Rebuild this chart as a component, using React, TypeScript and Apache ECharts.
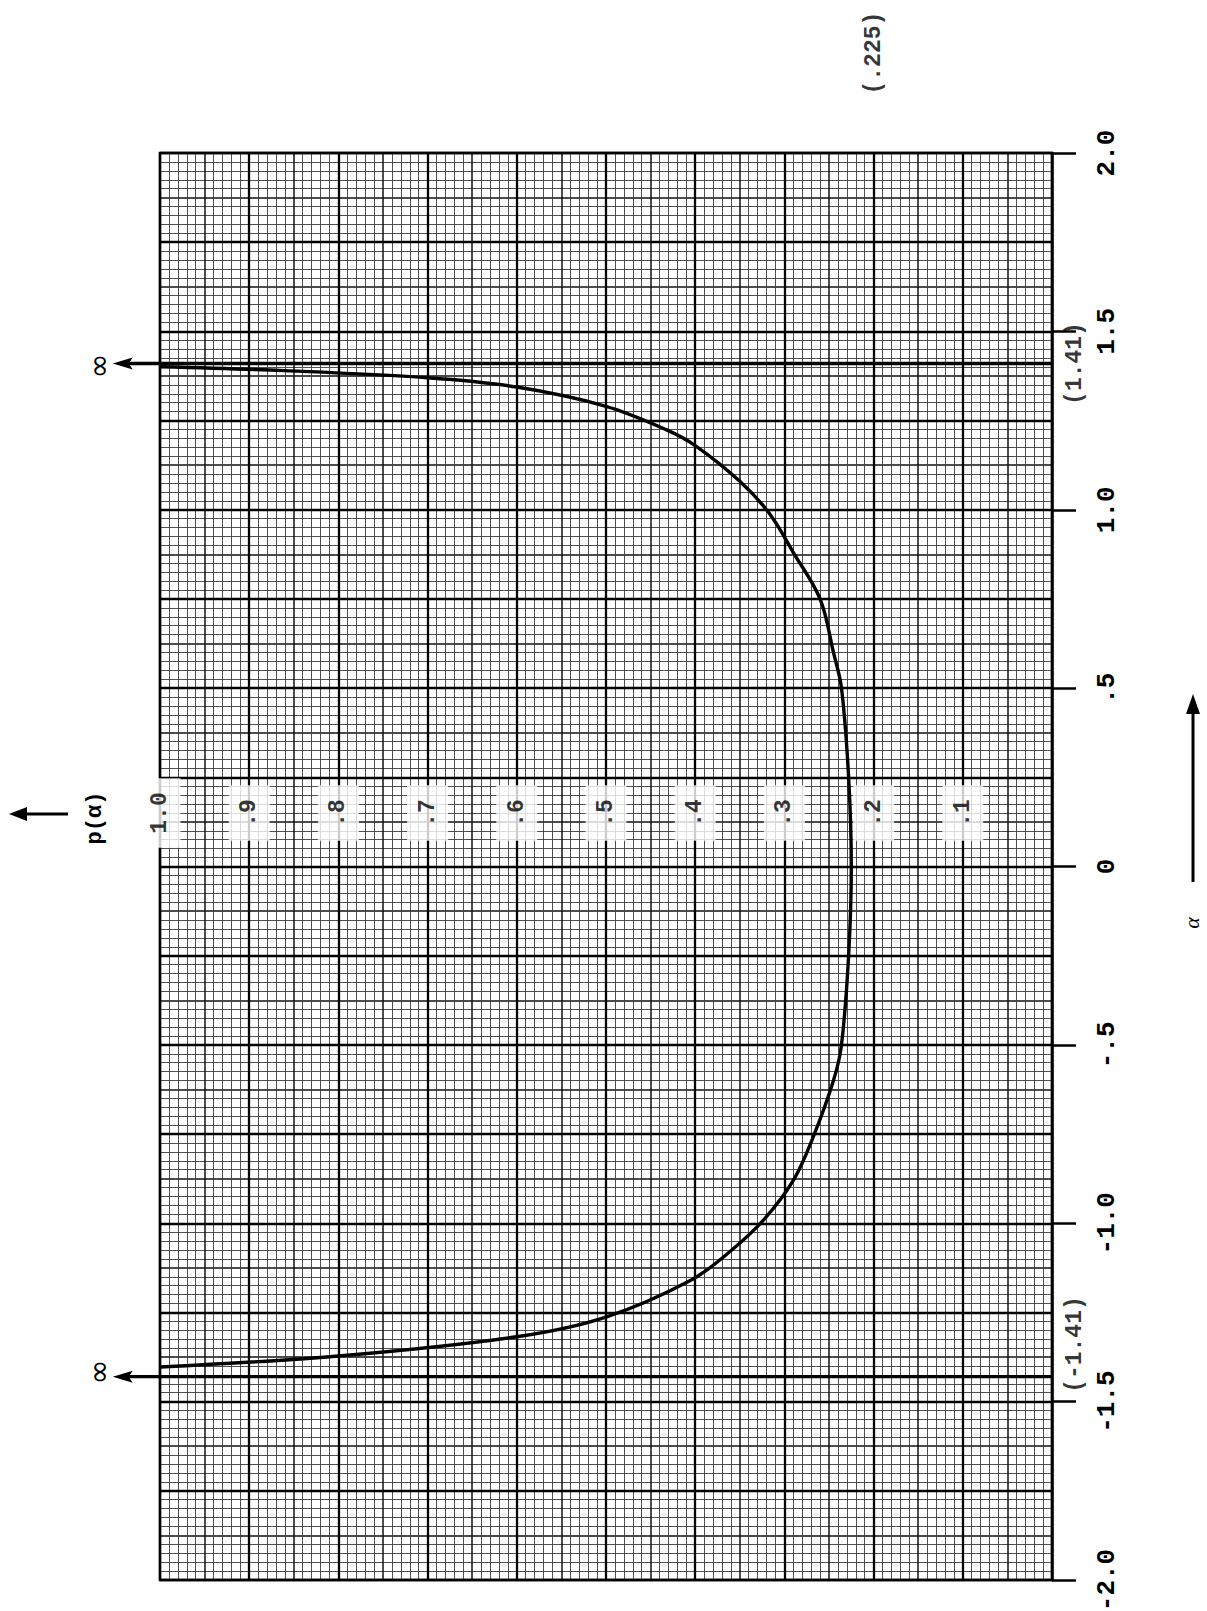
import React, { useEffect, useRef } from "react";
import * as echarts from "echarts";

// curve: alpha (vertical) and p(alpha) (horizontal)
const curveAlpha = [1.401, 1.39, 1.37, 1.344, 1.29, 1.224, 1.18, 1.08, 0.99, 0.88, 0.75, 0.6, 0.5, 0.25, 0, -0.25, -0.5, -0.6, -0.76, -0.88, -0.99, -1.075, -1.16, -1.263, -1.318, -1.372, -1.403];
const curveP = [1.0, 0.86, 0.7, 0.6, 0.5, 0.432, 0.4, 0.35, 0.317, 0.29, 0.26, 0.245, 0.236, 0.228, 0.225, 0.228, 0.236, 0.245, 0.268, 0.29, 0.323, 0.359, 0.405, 0.5, 0.6, 0.8, 1.0];

// asymptotes (drawn from p = 0 out past p = 1 to an arrow head)
const asymptoteAlpha = [1.41, -1.43];
const asymptoteEndP = 1.053;

// tick labels
const alphaTickValues = [-2, -1.5, -1, -0.5, 0, 0.5, 1, 1.5, 2];
const alphaTickLabels = ["-2.0", "-1.5", "-1.0", "-.5", "0", ".5", "1.0", "1.5", "2.0"];
const pTickValues = [1.0, 0.9, 0.8, 0.7, 0.6, 0.5, 0.4, 0.3, 0.2, 0.1];
const pTickLabels = ["1.0", ".9", ".8", ".7", ".6", ".5", ".4", ".3", ".2", ".1"];
const pLabelRowAlpha = 0.15;

// annotations
const noteTexts = ["(.225)", "(1.41)", "(-1.41)"];
const noteP = [0.2, -0.026, -0.026];
const noteAlpha = [2.28, 1.41, -1.34];

const MONO = "'Liberation Mono', 'DejaVu Sans Mono', monospace";

export default function App() {
  const ref = useRef<HTMLDivElement>(null);
  useEffect(() => {
    if (!ref.current) return;
    const chart = echarts.init(ref.current, null, { renderer: "svg" });
    const gridLeft = 160, gridTop = 153, gridW = 892, gridH = 1427;

    const hiddenAxisBits = {
      axisLine: { show: false },
      axisTick: { show: false },
      axisLabel: { show: false },
    };
    const minorColor = "#3c3c3c";

    const option: any = {
      animation: false,
      backgroundColor: "#fff",
      grid: {
        left: gridLeft,
        top: gridTop,
        width: gridW,
        height: gridH,
        show: true,
        borderColor: "#000",
        borderWidth: 2.5,
        backgroundColor: "#fff",
        containLabel: false,
        outerBoundsMode: "none",
      },
      xAxis: [
        {
          type: "value",
          min: 0,
          max: 1,
          interval: 0.1,
          inverse: true,
          position: "bottom",
          z: 2,
          ...hiddenAxisBits,
          splitLine: { show: true, lineStyle: { color: "#000", width: 2.3 } },
        },
        {
          type: "value",
          min: 0,
          max: 1,
          interval: 0.05,
          inverse: true,
          position: "top",
          z: 1,
          ...hiddenAxisBits,
          minorTick: { show: false, splitNumber: 5 },
          splitLine: { show: true, lineStyle: { color: "#111", width: 1.5 } },
          minorSplitLine: { show: true, lineStyle: { color: minorColor, width: 0.9 } },
        },
      ],
      yAxis: [
        {
          type: "value",
          min: -2,
          max: 2,
          interval: 0.5,
          position: "right",
          z: 3,
          axisLine: { show: true, lineStyle: { color: "#000", width: 2.5 } },
          axisTick: { show: true, inside: false, length: 24, lineStyle: { color: "#000", width: 2.5 } },
          axisLabel: {
            show: true,
            rotate: 90,
            margin: 42,
            fontFamily: MONO,
            fontWeight: "bold",
            fontSize: 26,
            color: "#000",
            formatter: (v: number) => {
              const i = alphaTickValues.findIndex((t) => Math.abs(t - v) < 1e-6);
              return i >= 0 ? alphaTickLabels[i] : "";
            },
          },
          splitLine: { show: false },
        },
        {
          type: "value",
          min: -2,
          max: 2,
          interval: 0.25,
          position: "left",
          z: 2,
          ...hiddenAxisBits,
          splitLine: { show: true, lineStyle: { color: "#000", width: 2.3 } },
        },
        {
          type: "value",
          min: -2,
          max: 2,
          interval: 0.125,
          position: "left",
          z: 1,
          ...hiddenAxisBits,
          minorTick: { show: false, splitNumber: 5 },
          splitLine: { show: true, lineStyle: { color: "#111", width: 1.5 } },
          minorSplitLine: { show: true, lineStyle: { color: minorColor, width: 0.9 } },
        },
      ],
      series: [
        {
          type: "custom",
          coordinateSystem: "cartesian2d",
          xAxisIndex: 0,
          yAxisIndex: 0,
          clip: false,
          z: 4,
          encode: { x: 0, y: 1 },
          data: asymptoteAlpha.map((a) => [0, a, asymptoteEndP]),
          renderItem: (_params: any, api: any) => {
            const a = api.value(1);
            const s = api.coord([api.value(0), a]);
            const e = api.coord([api.value(2), a]);
            return {
              type: "group",
              children: [
                {
                  type: "line",
                  shape: { x1: s[0], y1: s[1], x2: e[0] + 14, y2: e[1] },
                  style: { stroke: "#000", lineWidth: 3.4 },
                },
                {
                  type: "polygon",
                  shape: { points: [[e[0], e[1]], [e[0] + 20, e[1] - 6], [e[0] + 16, e[1]], [e[0] + 20, e[1] + 6]] },
                  style: { fill: "#000" },
                },
              ],
            };
          },
        },
        {
          type: "line",
          xAxisIndex: 0,
          yAxisIndex: 0,
          clip: false,
          z: 5,
          smooth: 0.35,
          showSymbol: false,
          symbol: "none",
          lineStyle: { color: "#000", width: 3.4 },
          data: curveP.map((p, i) => [p, curveAlpha[i]]),
        },
        {
          type: "scatter",
          xAxisIndex: 0,
          yAxisIndex: 0,
          clip: false,
          z: 6,
          symbolSize: 1,
          itemStyle: { color: "rgba(0,0,0,0)" },
          label: {
            show: true,
            position: "inside",
            rotate: 90,
            fontFamily: MONO,
            fontWeight: "bold",
            fontSize: 23,
            color: "#000",
            backgroundColor: "#fff",
            padding: [9, 14],
            formatter: (prm: any) => pTickLabels[prm.dataIndex],
          },
          data: pTickValues.map((p) => [p, pLabelRowAlpha]),
        },
        {
          type: "scatter",
          xAxisIndex: 0,
          yAxisIndex: 0,
          clip: false,
          z: 6,
          symbolSize: 1,
          itemStyle: { color: "rgba(0,0,0,0)" },
          label: {
            show: true,
            position: "inside",
            rotate: 90,
            fontFamily: MONO,
            fontWeight: "bold",
            fontSize: 23,
            color: "#000",
            formatter: (prm: any) => noteTexts[prm.dataIndex],
          },
          data: noteP.map((p, i) => [p, noteAlpha[i]]),
        },
      ],
      graphic: [
        // p(alpha) arrow (pointing left)
        { type: "line", shape: { x1: 68, y1: 814, x2: 22, y2: 814 }, style: { stroke: "#000", lineWidth: 3 } },
        { type: "polygon", shape: { points: [[9, 814], [27, 807], [27, 821]] }, style: { fill: "#000" } },
        {
          type: "text",
          x: 95,
          y: 818,
          rotation: Math.PI / 2,
          style: {
            text: "p(α)",
            fontFamily: MONO,
            fontWeight: "bold",
            fontSize: 22,
            fill: "#000",
            textAlign: "center",
            textVerticalAlign: "middle",
            align: "center",
            verticalAlign: "middle",
          },
        },
        // alpha arrow (pointing up)
        { type: "line", shape: { x1: 1193, y1: 882, x2: 1193, y2: 708 }, style: { stroke: "#000", lineWidth: 3 } },
        { type: "polygon", shape: { points: [[1193, 694], [1186, 714], [1200, 714]] }, style: { fill: "#000" } },
        {
          type: "text",
          x: 1191,
          y: 923,
          rotation: Math.PI / 2,
          style: {
            text: "α",
            fontFamily: "'Liberation Serif', serif",
            fontStyle: "italic",
            fontSize: 22,
            fill: "#000",
            textAlign: "center",
            textVerticalAlign: "middle",
            align: "center",
            verticalAlign: "middle",
          },
        },
        // infinity marks
        ...[366, 1372].map((y) => ({
          type: "text",
          x: 98,
          y,
          rotation: Math.PI / 2,
          style: {
            text: "∞",
            fontFamily: "'DejaVu Sans', sans-serif",
            fontSize: 30,
            fill: "#000",
            textAlign: "center",
            textVerticalAlign: "middle",
            align: "center",
            verticalAlign: "middle",
          },
        })),
      ],
    };
    chart.setOption(option);
    return () => chart.dispose();
  }, []);
  return (
    <div
      ref={ref}
      style={{ position: "absolute", left: 0, top: 0, width: 1207, height: 1611, background: "#fff" }}
    />
  );
}
